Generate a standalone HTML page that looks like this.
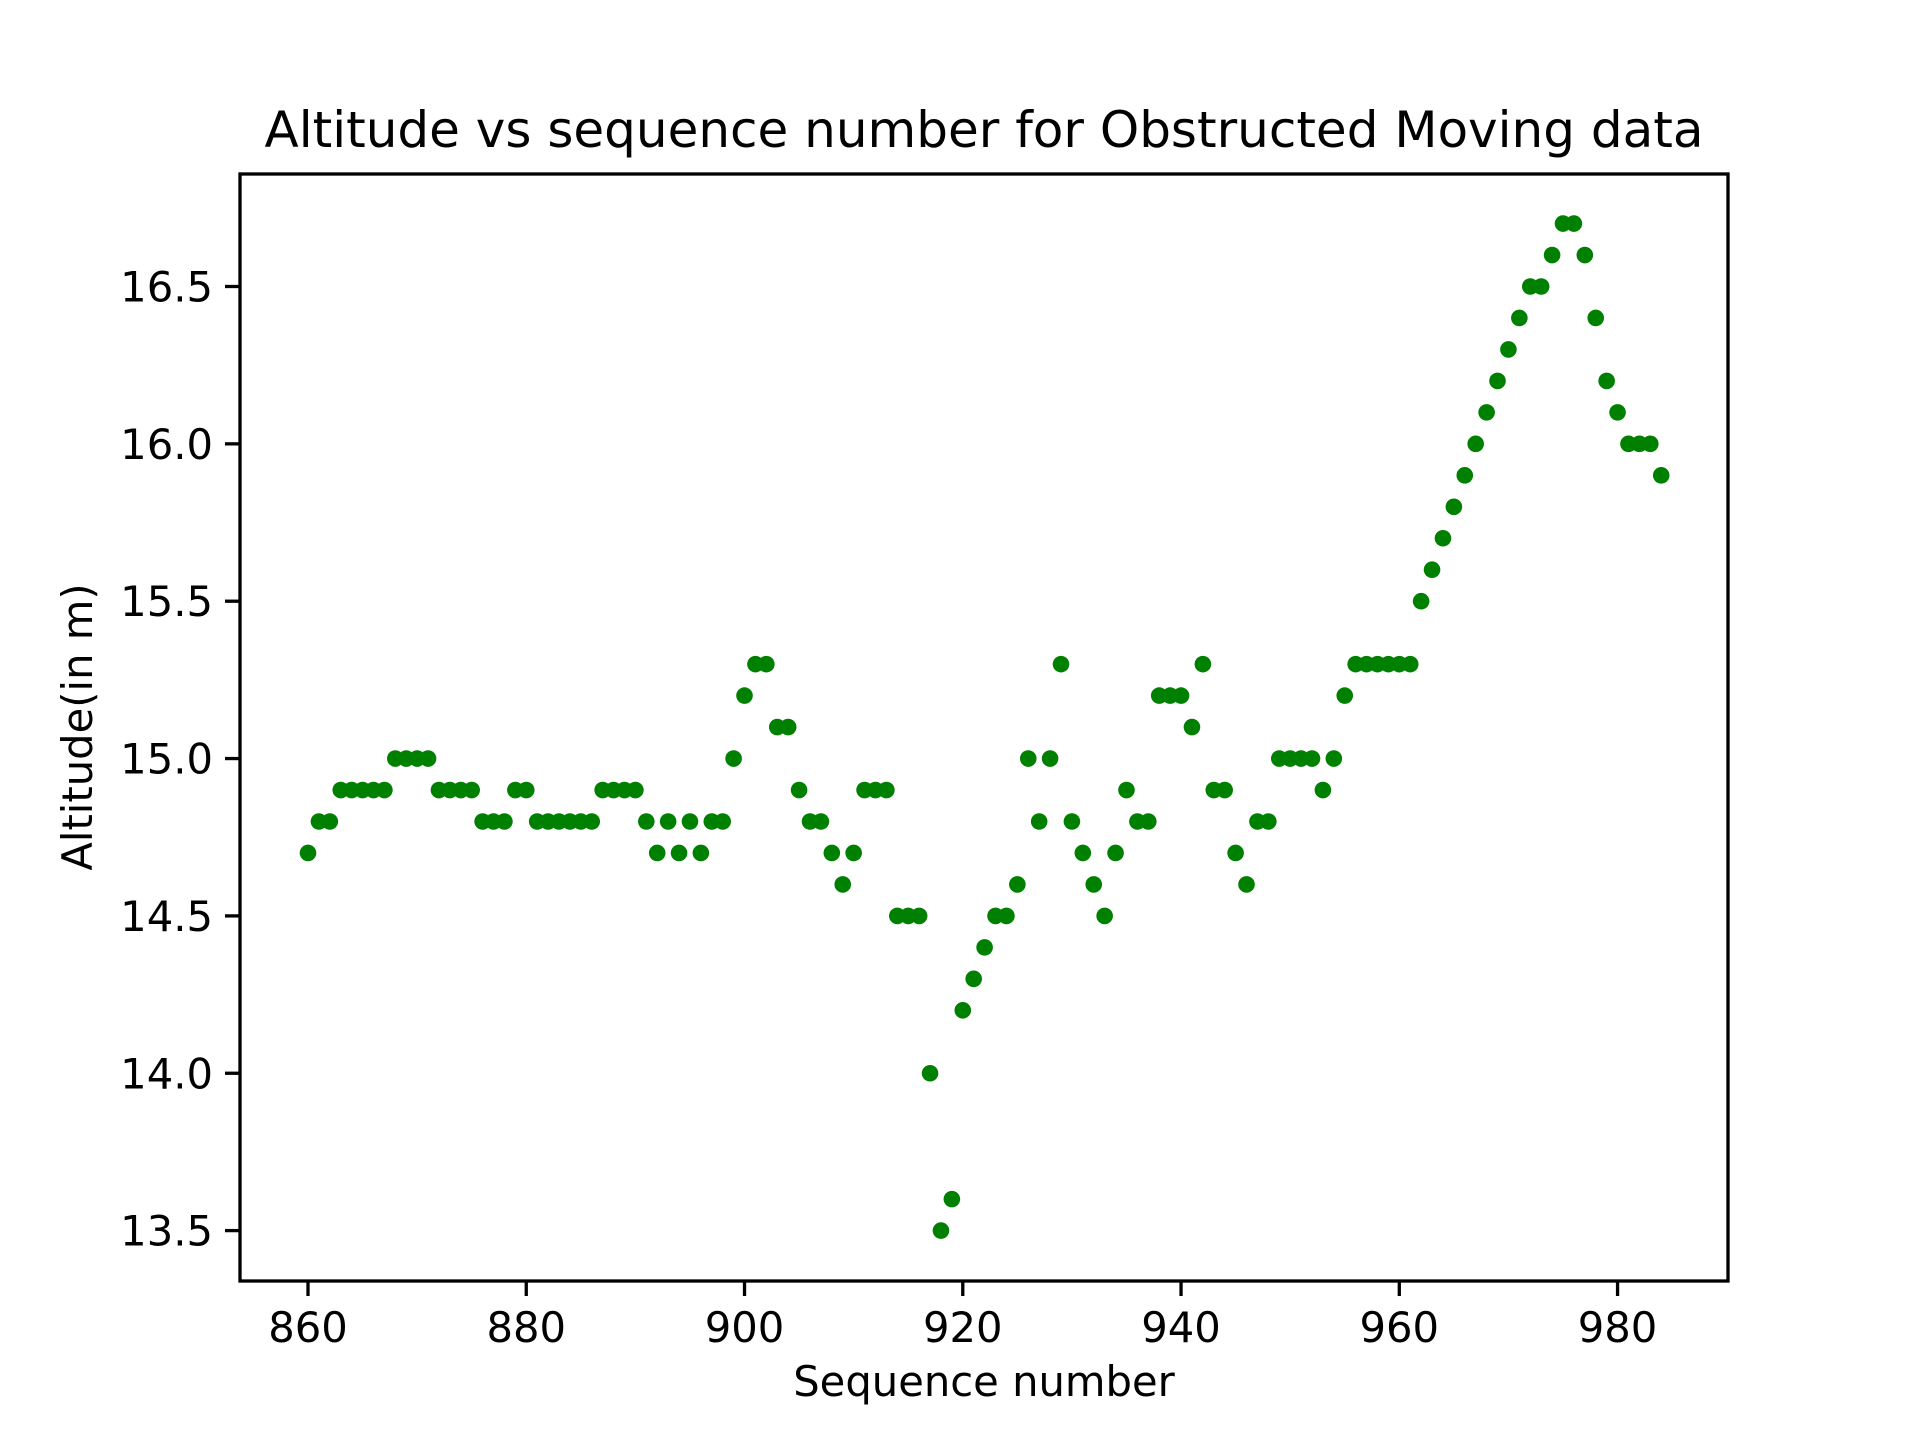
<!DOCTYPE html>
<html><head><meta charset="utf-8"><style>
html,body{margin:0;padding:0;background:#fff;}
svg{display:block;font-family:"DejaVu Sans","Liberation Sans",sans-serif;}
</style></head><body>
<svg id="chart" width="1920" height="1440" viewBox="0 0 1920 1440" xmlns="http://www.w3.org/2000/svg">
<rect width="1920" height="1440" fill="#fff"/>
<text x="984" y="147" font-size="50" text-anchor="middle">Altitude vs sequence number for Obstructed Moving data</text>
<g id="marks"></g>
<g id="xticks"></g>
<g id="yticks"></g>
<rect x="240" y="174" width="1488" height="1107" fill="none" stroke="#000" stroke-width="3.3"/>
<text x="984" y="1396" font-size="41.7" text-anchor="middle">Sequence number</text>
<text x="0" y="0" font-size="41.7" text-anchor="middle" transform="translate(92,727) rotate(-90)">Altitude(in m)</text>
</svg>
<script>
const startSeq = 860;
const altitudes = [14.7,14.8,14.8,14.9,14.9,14.9,14.9,14.9,15.0,15.0,15.0,15.0,14.9,14.9,14.9,14.9,14.8,14.8,14.8,14.9,14.9,14.8,14.8,14.8,14.8,14.8,14.8,14.9,14.9,14.9,14.9,14.8,14.7,14.8,14.7,14.8,14.7,14.8,14.8,15.0,15.2,15.3,15.3,15.1,15.1,14.9,14.8,14.8,14.7,14.6,14.7,14.9,14.9,14.9,14.5,14.5,14.5,14.0,13.5,13.6,14.2,14.3,14.4,14.5,14.5,14.6,15.0,14.8,15.0,15.3,14.8,14.7,14.6,14.5,14.7,14.9,14.8,14.8,15.2,15.2,15.2,15.1,15.3,14.9,14.9,14.7,14.6,14.8,14.8,15.0,15.0,15.0,15.0,14.9,15.0,15.2,15.3,15.3,15.3,15.3,15.3,15.3,15.5,15.6,15.7,15.8,15.9,16.0,16.1,16.2,16.3,16.4,16.5,16.5,16.6,16.7,16.7,16.6,16.4,16.2,16.1,16.0,16.0,16.0,15.9];
const xTickVals = [860,880,900,920,940,960,980];
const yTickVals = [13.5,14.0,14.5,15.0,15.5,16.0,16.5];
const yTickLabels = ["13.5","14.0","14.5","15.0","15.5","16.0","16.5"];

const NS = "http://www.w3.org/2000/svg";
function xScale(v){ return 308 + (v - 860) * 10.913; }
function yScale(v){ return 1230.6 - (v - 13.5) * 314.7; }

const marks = document.getElementById('marks');
altitudes.forEach((a, i) => {
  const c = document.createElementNS(NS, 'circle');
  c.setAttribute('cx', xScale(startSeq + i));
  c.setAttribute('cy', yScale(a));
  c.setAttribute('r', 8.3);
  c.setAttribute('fill', '#008000');
  
  
  marks.appendChild(c);
});

const xg = document.getElementById('xticks');
xTickVals.forEach(v => {
  const x = xScale(v);
  const l = document.createElementNS(NS, 'line');
  l.setAttribute('x1', x); l.setAttribute('x2', x);
  l.setAttribute('y1', 1281); l.setAttribute('y2', 1296);
  l.setAttribute('stroke', '#000'); l.setAttribute('stroke-width', 3.3);
  
  
  xg.appendChild(l);
  const t = document.createElementNS(NS, 'text');
  t.setAttribute('x', x); t.setAttribute('y', 1342);
  t.setAttribute('font-size', 41.7); t.setAttribute('text-anchor', 'middle');
  t.textContent = v;
  
  
  xg.appendChild(t);
});

const yg = document.getElementById('yticks');
yTickVals.forEach((v, i) => {
  const y = yScale(v);
  const l = document.createElementNS(NS, 'line');
  l.setAttribute('x1', 225); l.setAttribute('x2', 240);
  l.setAttribute('y1', y); l.setAttribute('y2', y);
  l.setAttribute('stroke', '#000'); l.setAttribute('stroke-width', 3.3);
  
  
  yg.appendChild(l);
  const t = document.createElementNS(NS, 'text');
  t.setAttribute('x', 213); t.setAttribute('y', y + 15);
  t.setAttribute('font-size', 41.7); t.setAttribute('text-anchor', 'end');
  t.textContent = yTickLabels[i];
  
  
  yg.appendChild(t);
});
</script>
</body></html>
